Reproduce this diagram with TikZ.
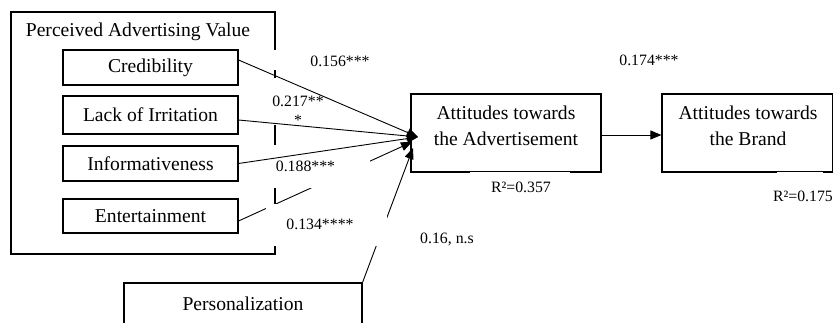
\documentclass[tikz,border=0pt]{standalone}
\usepackage{fontspec}
\setmainfont{Liberation Serif}
\usetikzlibrary{arrows.meta}

\begin{document}
\begin{tikzpicture}[x=1pt, y=-1pt,
  box/.style={rectangle, draw, line width=1.1pt, inner sep=0pt, font=\fontsize{19.6}{26}\selectfont},
  boxtext/.style={inner sep=0pt, align=center, font=\fontsize{19.6}{26}\selectfont},
  lbl/.style={inner sep=0pt, font=\fontsize{15.8}{19}\selectfont},
  link/.style={-{Triangle[length=11pt, width=9pt]}, line width=0.9pt},
  mask/.style={fill=white, draw=none}]
  \useasboundingbox (0,0) rectangle (833,323);

  % perceived advertising value and its parts
  \node (pav) [box, minimum width=264, minimum height=242] at (143,133) {};
  \node (pavtitle) [boxtext] at (138,32) {Perceived Advertising Value};
  \node (cred) [box, minimum width=175, minimum height=35] at (150.5,67.5) {Credibility};
  \node (irr) [box, minimum width=175, minimum height=38] at (150.5,115) {Lack of Irritation};
  \node (info) [box, minimum width=175, minimum height=35] at (150.5,163.5) {Informativeness};
  \node (ent) [box, minimum width=175, minimum height=34] at (150.5,216) {Entertainment};
  \node (pers) [box, minimum width=238, minimum height=42] at (243,304) {Personalization};

  % attitudes
  \node (ad) [box, minimum width=190, minimum height=78] at (506,133) {};
  \node (adtext) [boxtext] at (506,126) {Attitudes towards\\the Advertisement};
  \node (brand) [box, minimum width=170.5, minimum height=78] at (747.25,133) {};
  \node (brandtext) [boxtext] at (748,126) {Attitudes towards\\the Brand};

  \coordinate (hub) at (418,137);
  \coordinate (hubent) at (412,142);
  \coordinate (hubpers) at (413,148);

  \draw[link] ([yshift=-5pt]ent.east) -- (hubent);
  \draw[link] (pers.north east) -- (hubpers);

  % white label boxes
  \fill[mask] (268,50) rectangle (330,70);
  \fill[mask] (268,78) rectangle (330,125);
  \fill[mask] (268,145) rectangle (370,188);
  \fill[mask] (266,204) rectangle (387,246);
  \fill[mask] (470,172) rectangle (570,195);
  \fill[mask] (777,172) rectangle (823,195);

  \draw[link] ([yshift=7.5pt]cred.east) -- (hub);
  \draw[link] ([yshift=-5pt]irr.east) -- (hub);
  \draw[link] (info.east) -- (hub);
  \draw[link] ([yshift=-2pt]ad.east) -- ([yshift=-2pt]brand.west);

  % coefficients
  \node (c156) [lbl] at (340,61) {0.156***};
  \node (c217) [lbl, align=center] at (298,111) {0.217**\\*};
  \node (c188) [lbl] at (305.5,166) {0.188***};
  \node (c134) [lbl] at (320,224) {0.134****};
  \node (c016) [lbl] at (447,239) {0.16, n.s};
  \node (c174) [lbl] at (649,60) {0.174***};
  \node (rad) [lbl] at (521,187) {R²=0.357};
  \node (rbrand) [lbl] at (803,196) {R²=0.175};
\end{tikzpicture}
\end{document}
